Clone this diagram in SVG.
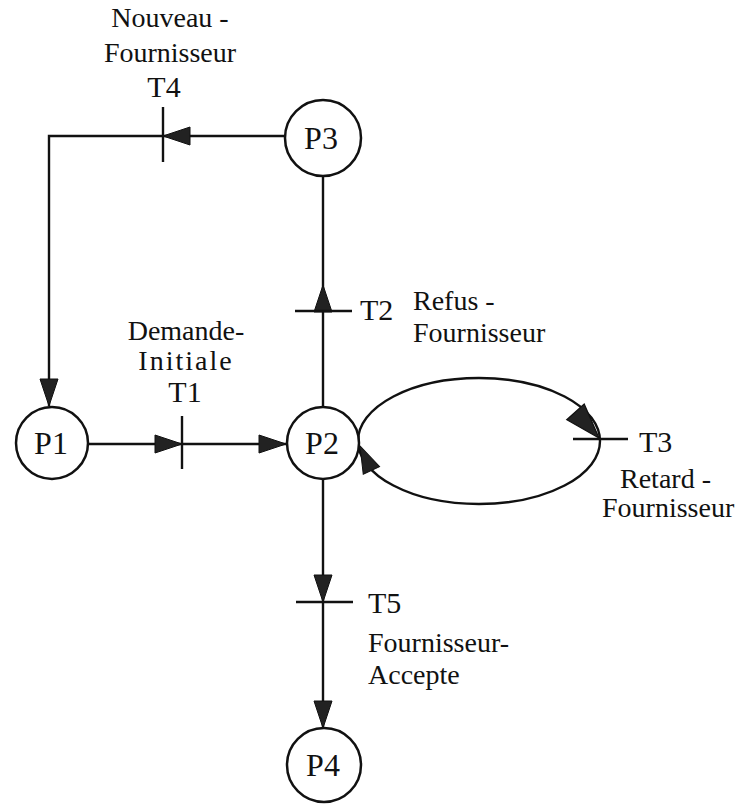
<svg xmlns="http://www.w3.org/2000/svg" xmlns:xlink="http://www.w3.org/1999/xlink" width="740" height="805" viewBox="0 0 740 805">
<style>
  .place { fill: #fff; stroke: #111; stroke-width: 2.5; }
  .edge { fill: none; stroke: #111; stroke-width: 2.4; }
  .bar { stroke: #111; stroke-width: 2.4; }
  .ah { fill: #222; stroke: #111; stroke-width: 1; }
  .pl { font-family: "Liberation Serif", "Times New Roman", serif; font-size: 32px; fill: #111; text-anchor: middle; }
  .tl { font-family: "Liberation Serif", "Times New Roman", serif; font-size: 30px; fill: #111; }
  .lb { font-family: "Liberation Serif", "Times New Roman", serif; font-size: 28px; fill: #111; }
  .mid { text-anchor: middle; }
</style>
<defs>
  <path id="ah" d="M0,0 L-27,-9 L-27,9 Z"/>
</defs>
<rect width="740" height="805" fill="#fff"/>

<g id="connectors">
  <!-- P3 -> T4 -> P1 -->
  <polyline class="edge" points="285,136 49,136 49,406"/>
  <!-- P1 -> T1 -> P2 -->
  <line class="edge" x1="88" y1="444" x2="286" y2="444"/>
  <!-- P2 -> T2 -> P3 -->
  <line class="edge" x1="323" y1="407" x2="323" y2="176"/>
  <!-- P2 -> T5 -> P4 -->
  <line class="edge" x1="323" y1="479" x2="323" y2="728"/>
  <!-- loop P2 <-> T3 -->
  <ellipse class="edge" cx="479" cy="441" rx="121" ry="63"/>
  <!-- arrowheads -->
  <use href="#ah" class="ah" transform="translate(163,136) rotate(180)"/>
  <use href="#ah" class="ah" transform="translate(49,406) rotate(90)"/>
  <use href="#ah" class="ah" transform="translate(182,444)"/>
  <use href="#ah" class="ah" transform="translate(286,444)"/>
  <use href="#ah" class="ah" transform="translate(323,285) rotate(-90)"/>
  <use href="#ah" class="ah" transform="translate(323,602) rotate(90)"/>
  <use href="#ah" class="ah" transform="translate(323,728) rotate(90)"/>
  <use href="#ah" class="ah" transform="translate(599,438) rotate(48) scale(1.3)"/>
  <use href="#ah" class="ah" transform="translate(360,446) rotate(-115)"/>
</g>

<g id="T4">
  <line class="bar" x1="163" y1="107" x2="163" y2="162"/>
  <text class="tl mid" x="164" y="97">T4</text>
  <text class="lb mid" x="170" y="27">Nouveau -</text>
  <text class="lb mid" x="170" y="62">Fournisseur</text>
</g>
<g id="T1">
  <line class="bar" x1="182" y1="416" x2="182" y2="469"/>
  <text class="tl mid" x="185" y="402">T1</text>
  <text class="lb mid" x="186" y="340">Demande-</text>
  <text class="lb mid" x="186" y="370" letter-spacing="2">Initiale</text>
</g>
<g id="T2">
  <line class="bar" x1="295" y1="311" x2="352" y2="311"/>
  <text class="tl" x="360" y="320">T2</text>
  <text class="lb" x="413" y="310" font-size="27">Refus -</text>
  <text class="lb" x="413" y="342">Fournisseur</text>
</g>
<g id="T3">
  <line class="bar" x1="573" y1="439" x2="628" y2="439"/>
  <text class="tl" x="639" y="452">T3</text>
  <text class="lb" x="620" y="488">Retard -</text>
  <text class="lb" x="602" y="517">Fournisseur</text>
</g>
<g id="T5">
  <line class="bar" x1="296" y1="602" x2="353" y2="602"/>
  <text class="tl" x="368" y="613">T5</text>
  <text class="lb" x="368" y="652">Fournisseur-</text>
  <text class="lb" x="368" y="684">Accepte</text>
</g>

<g id="P1">
  <circle class="place" cx="52" cy="443" r="36"/>
  <text class="pl" x="51" y="454">P1</text>
</g>
<g id="P2">
  <circle class="place" cx="323" cy="443" r="36"/>
  <text class="pl" x="322" y="454">P2</text>
</g>
<g id="P3">
  <circle class="place" cx="323" cy="138" r="38"/>
  <text class="pl" x="321" y="149">P3</text>
</g>
<g id="P4">
  <circle class="place" cx="324" cy="765" r="37"/>
  <text class="pl" x="323" y="776">P4</text>
</g>
</svg>
